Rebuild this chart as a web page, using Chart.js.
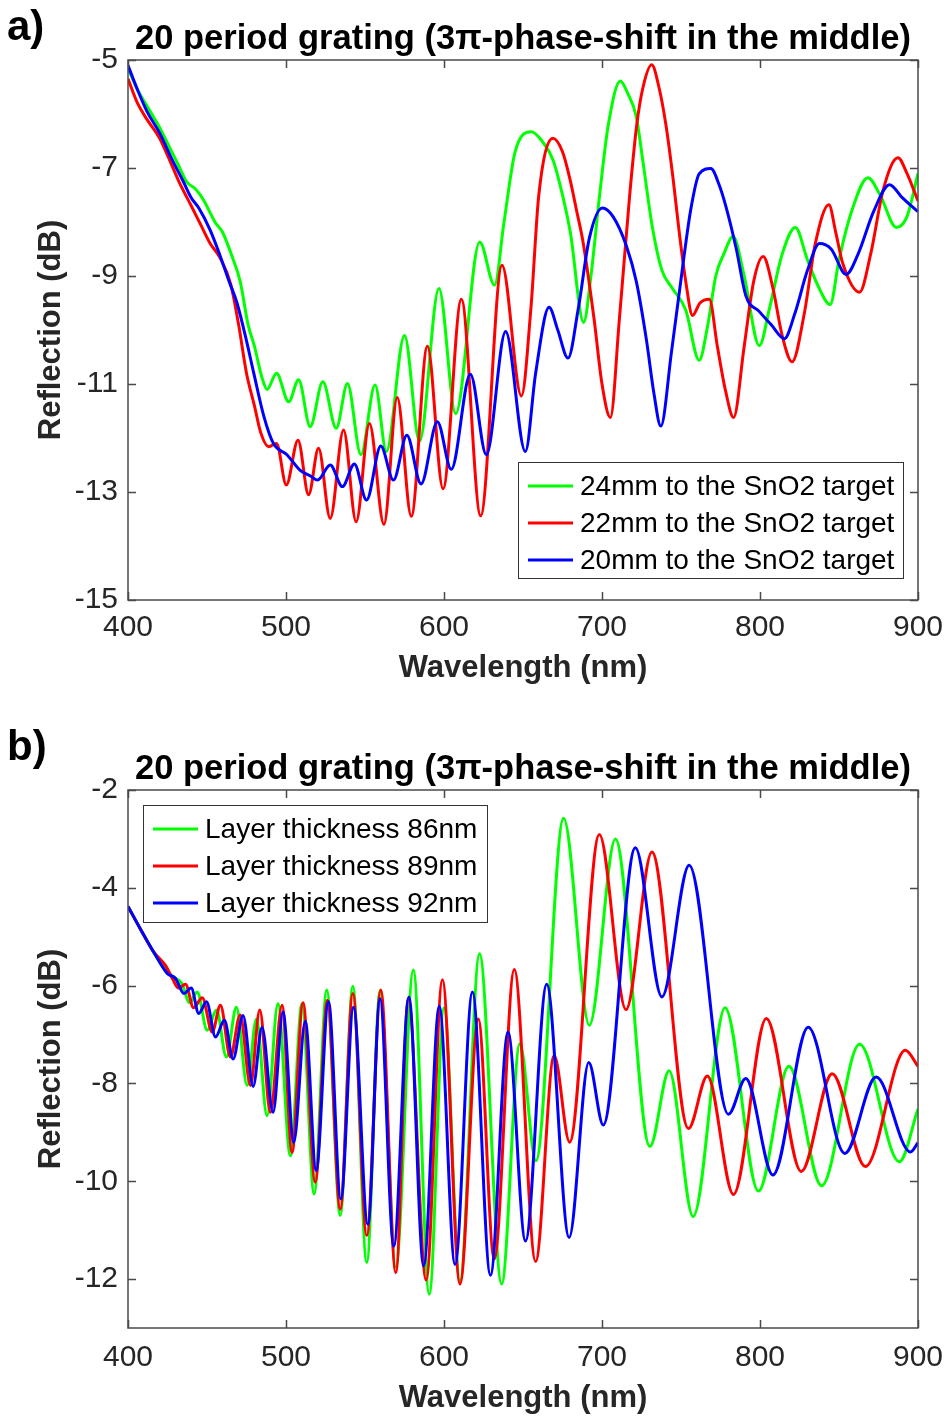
<!DOCTYPE html>
<html>
<head>
<meta charset="utf-8">
<script src="https://cdn.jsdelivr.net/npm/chart.js@4.4.1/dist/chart.umd.min.js"></script>
<style>
  html, body { margin: 0; padding: 0; background: #fff; }
  #page { position: relative; width: 947px; height: 1421px; background: #fff; }
  canvas { position: absolute; left: 0; }
  #chartA { top: 0; }
  #chartB { top: 720px; }
</style>
</head>
<body>
<div id="page">
  <canvas id="chartA" width="947" height="700"></canvas>
  <canvas id="chartB" width="947" height="701"></canvas>
</div>
<script>
const FONT = '"Liberation Sans", Arial, Helvetica, sans-serif';
const TITLE = '20 period grating (3\u03c0-phase-shift in the middle)';

// ticks
const xTicks = [400, 500, 600, 700, 800, 900];
const yTicksA = [-15, -13, -11, -9, -7, -5];
const yTicksB = [-12, -10, -8, -6, -4, -2];

// legend labels
const labelsA = ['24mm to the SnO2 target', '22mm to the SnO2 target', '20mm to the SnO2 target'];
const labelsB = ['Layer thickness 86nm', 'Layer thickness 89nm', 'Layer thickness 92nm'];
const colors = ['#00ff00', '#ff0000', '#0000ff'];

// a) measured reflection, read off the figure
const mm24Wl = [400, 406, 412, 420, 426, 432, 437, 443, 448, 455, 460, 466, 471, 476, 480, 485, 488, 494, 501.7, 508, 515.3, 523.3, 531.8, 538.9, 547.4, 556.4, 563.5, 575, 584.5, 596.8, 607.4, 622.6, 632, 638, 645, 655.3, 662, 669, 675, 680, 688.4, 693, 698.5, 704, 711.6, 716, 721.7, 726, 731.9, 738, 744.6, 753, 761.5, 767, 772, 777, 783, 790, 799.6, 806, 814, 822.4, 830, 837, 844.4, 850, 858, 868.3, 876, 886.3, 893, 900];
const mm24Db = [-5.15, -5.55, -5.85, -6.25, -6.6, -6.95, -7.25, -7.4, -7.6, -8.0, -8.2, -8.65, -9.1, -9.9, -10.3, -10.9, -11.1, -10.8, -11.33, -10.92, -11.79, -10.96, -11.82, -10.99, -12.31, -11.02, -12.25, -10.1, -12.06, -9.23, -11.55, -8.37, -9.17, -8.0, -6.7, -6.33, -6.5, -6.85, -7.5, -8.2, -9.86, -9.0, -7.5, -6.2, -5.39, -5.6, -6.05, -6.9, -8.1, -8.9, -9.23, -9.63, -10.56, -9.9, -9.0, -8.6, -8.27, -9.0, -10.29, -9.6, -8.6, -8.1, -8.7, -9.2, -9.53, -8.7, -7.8, -7.18, -7.5, -8.1, -7.9, -7.1];

const mm22Wl = [400, 406, 412, 420, 427, 433, 440, 446, 452, 458, 465, 470, 475, 480, 484, 489, 494, 500.2, 507.6, 514.3, 520.6, 528, 536.4, 544.4, 552.8, 562, 570.4, 579.3, 589.5, 599.4, 611, 623.2, 636.7, 649, 655, 660, 669, 675, 679.5, 684, 688, 695, 700, 705.3, 711, 717.5, 722, 726, 731.5, 736, 740.4, 745, 748.8, 753, 757.3, 762, 767.9, 773, 778, 783.3, 790, 796, 802, 808, 814, 820.3, 828, 835, 843.6, 848, 852.4, 863, 870, 878, 887.3, 893, 900];
const mm22Db = [-5.35, -5.8, -6.1, -6.45, -6.9, -7.3, -7.7, -8.05, -8.4, -8.65, -9.15, -9.9, -10.8, -11.4, -11.9, -12.16, -12.1, -12.87, -12.04, -13.05, -12.19, -13.49, -11.85, -13.55, -11.73, -13.6, -11.25, -13.45, -10.3, -12.94, -9.43, -13.44, -8.8, -11.22, -9.6, -7.5, -6.45, -6.7, -7.18, -7.8, -8.37, -9.8, -11.0, -11.62, -9.8, -7.51, -6.2, -5.5, -5.09, -5.5, -6.19, -7.2, -8.17, -9.1, -9.73, -9.5, -9.43, -10.3, -11.1, -11.62, -10.3, -9.1, -8.64, -9.2, -10.1, -10.59, -9.7, -8.4, -7.68, -8.2, -8.77, -9.3, -8.6, -7.4, -6.81, -7.1, -7.61];

const mm20Wl = [400, 406, 412, 420, 428, 435, 440, 445, 452, 458, 464, 469, 475, 479.6, 486, 492, 500.6, 509, 515.3, 520, 528, 535.7, 543.3, 551, 560, 568, 576.5, 585.5, 595.8, 604.6, 616.7, 626.8, 639, 651.5, 658, 666.5, 672, 678.5, 685, 692, 700.2, 707, 715.4, 721.7, 728, 733, 737.2, 744, 751, 756, 761.5, 768.9, 774, 778.4, 785, 791, 799.6, 807, 815.4, 822, 830, 837.6, 845, 854.5, 862, 872, 882, 890, 900];
const mm20Db = [-5.1, -5.55, -5.95, -6.35, -6.85, -7.25, -7.55, -7.75, -8.15, -8.6, -9.1, -9.5, -10.2, -10.8, -11.6, -12.1, -12.31, -12.6, -12.7, -12.78, -12.5, -12.9, -12.48, -13.15, -12.15, -12.78, -11.95, -12.85, -11.7, -12.58, -10.82, -12.31, -10.03, -12.25, -10.8, -9.58, -10.0, -10.52, -9.6, -8.3, -7.74, -7.9, -8.44, -9.1, -10.16, -11.2, -11.78, -10.4, -8.84, -7.8, -7.11, -7.01, -7.3, -7.71, -8.5, -9.36, -9.66, -9.9, -10.16, -9.7, -8.9, -8.4, -8.5, -8.97, -8.6, -7.8, -7.31, -7.55, -7.81];

// b) simulated reflection, peaks and troughs
const nm86Wl = [400, 408, 416, 424, 430, 434, 439, 443.8, 450.1, 456, 462.3, 468.6, 475.4, 481.3, 488, 494.9, 502.8, 510.1, 517.8, 525.8, 534.3, 542.3, 551.1, 559.5, 569.5, 580.6, 590.7, 600, 610.1, 622.5, 636.5, 648, 658.2, 675.7, 692, 708.5, 730.3, 742.5, 757.7, 777.9, 799, 818.3, 839, 863, 888.2, 900];
const nm86Db = [-4.38, -4.85, -5.3, -5.7, -5.85, -5.95, -6.35, -6.13, -6.91, -6.5, -7.46, -6.44, -8.04, -6.68, -8.66, -6.37, -9.48, -6.37, -10.26, -6.09, -10.7, -6.01, -11.66, -6.11, -11.75, -5.68, -12.31, -6.45, -12.04, -5.35, -12.1, -7.19, -9.58, -2.58, -6.81, -3.0, -9.29, -7.74, -10.72, -6.45, -10.2, -7.65, -10.09, -7.2, -9.6, -8.52];

const nm89Wl = [400, 408, 416, 424, 428, 432, 436.4, 441.5, 447, 453.3, 458.5, 464.8, 471, 477.5, 483.4, 490.1, 497.5, 503.8, 510.8, 518.5, 526.2, 534.3, 542.3, 551.1, 560, 569.5, 577.4, 588.7, 599, 610.1, 621.7, 631.8, 644.5, 658, 669.7, 679.5, 698.3, 715.2, 731.6, 754.7, 766.7, 783.2, 804, 826.1, 845.7, 866.7, 892, 900];
const nm89Db = [-4.38, -4.85, -5.3, -5.6, -5.85, -6.05, -5.97, -6.45, -6.25, -6.95, -6.4, -7.46, -6.6, -8.04, -6.5, -8.59, -6.4, -9.41, -6.35, -10.02, -6.3, -10.57, -6.16, -11.11, -6.09, -11.87, -6.27, -12.02, -5.88, -12.1, -6.68, -11.59, -5.67, -11.64, -7.43, -9.2, -2.91, -6.49, -3.27, -8.92, -7.85, -10.27, -6.67, -9.8, -7.8, -9.7, -7.32, -7.65];

const nm92Wl = [400, 408, 416, 424.8, 430, 435.4, 440, 444.8, 449.7, 455.4, 461, 466.5, 472.8, 479.2, 484.8, 491.8, 498.1, 504.9, 512.2, 519.1, 526.9, 534.7, 542.7, 551.8, 559.5, 568.2, 577.8, 587.1, 597, 607, 618, 629.4, 640.5, 651.6, 665, 679.2, 691.6, 700.8, 721.1, 737.9, 755.2, 780, 791, 808.2, 830.5, 853.7, 873.5, 895.2, 900];
const nm92Db = [-4.38, -4.85, -5.3, -5.75, -5.85, -6.16, -6.05, -6.57, -6.33, -7.05, -6.71, -7.5, -6.61, -8.06, -6.85, -8.59, -6.54, -9.2, -6.73, -9.78, -6.33, -10.36, -6.44, -10.88, -6.27, -11.33, -6.23, -11.73, -6.42, -11.7, -6.13, -11.92, -6.95, -11.22, -5.97, -11.15, -7.57, -8.85, -3.18, -6.23, -3.54, -8.63, -7.9, -9.87, -6.85, -9.43, -7.87, -9.4, -9.21];

function pts(wl, db) {
  return wl.map((x, i) => ({ x: x, y: db[i] }));
}

function series(label, color, wl, db, order) {
  return {
    label: label,
    data: pts(wl, db),
    borderColor: color,
    backgroundColor: color,
    borderWidth: 3,
    pointRadius: 0,
    fill: false,
    cubicInterpolationMode: 'monotone',
    order: order
  };
}

// box, inward ticks, legend, title and panel letter (MATLAB look)
const framePlugin = {
  id: 'frame',
  afterDatasetsDraw(chart, args, opts) {
    const { ctx, chartArea: a, scales: { x, y } } = chart;
    ctx.save();
    ctx.strokeStyle = '#4a4a4a';
    ctx.lineWidth = 1.5;
    ctx.strokeRect(a.left, a.top, a.right - a.left, a.bottom - a.top);

    const tl = 8;
    ctx.beginPath();
    xTicks.forEach(v => {
      const px = Math.round(x.getPixelForValue(v)) + 0.5;
      ctx.moveTo(px, a.bottom); ctx.lineTo(px, a.bottom - tl);
      ctx.moveTo(px, a.top); ctx.lineTo(px, a.top + tl);
    });
    opts.yTicks.forEach(v => {
      const py = Math.round(y.getPixelForValue(v)) + 0.5;
      ctx.moveTo(a.left, py); ctx.lineTo(a.left + tl, py);
      ctx.moveTo(a.right, py); ctx.lineTo(a.right - tl, py);
    });
    ctx.stroke();

    // legend box
    const lg = opts.legend;
    ctx.fillStyle = '#fff';
    ctx.fillRect(lg.x, lg.y, lg.w, lg.h);
    ctx.lineWidth = 1;
    ctx.strokeStyle = '#333';
    ctx.strokeRect(lg.x + 0.5, lg.y + 0.5, lg.w, lg.h);
    ctx.font = '28px ' + FONT;
    ctx.textBaseline = 'middle';
    ctx.textAlign = 'left';
    chart.data.datasets.forEach((ds, i) => {
      const cy = lg.y + 24 + i * 37;
      ctx.strokeStyle = ds.borderColor;
      ctx.lineWidth = 3;
      ctx.beginPath();
      ctx.moveTo(lg.x + 10, cy);
      ctx.lineTo(lg.x + 55, cy);
      ctx.stroke();
      ctx.fillStyle = '#000';
      ctx.fillText(ds.label, lg.x + 62, cy + 1);
    });
    ctx.restore();
  },
  afterDraw(chart, args, opts) {
    const { ctx, chartArea: a } = chart;
    ctx.save();
    ctx.fillStyle = '#000';
    ctx.textBaseline = 'alphabetic';
    ctx.textAlign = 'center';
    ctx.font = 'bold 34.5px ' + FONT;
    ctx.fillText(TITLE, (a.left + a.right) / 2, opts.titleY);
    ctx.textAlign = 'left';
    ctx.font = 'bold 42px ' + FONT;
    ctx.fillText(opts.panel, 7, opts.panelY);
    ctx.restore();
  }
};

function makeChart(id, datasets, cfg) {
  return new Chart(document.getElementById(id), {
    type: 'line',
    data: { datasets: datasets },
    plugins: [framePlugin],
    options: {
      responsive: false,
      animation: false,
      devicePixelRatio: 1,
      layout: { padding: { left: 0, top: cfg.top, right: 29, bottom: 0 } },
      plugins: {
        legend: { display: false },
        tooltip: { enabled: false },
        frame: { yTicks: cfg.yTicks, legend: cfg.legend, titleY: cfg.titleY, panel: cfg.panel, panelY: cfg.panelY }
      },
      scales: {
        x: {
          type: 'linear',
          min: 400,
          max: 900,
          afterBuildTicks: s => { s.ticks = xTicks.map(v => ({ value: v })); },
          afterFit: s => { s.height = cfg.xAxisH; s.paddingLeft = 0; s.paddingRight = 0; },
          grid: { display: false, drawTicks: false },
          border: { display: false },
          ticks: { padding: cfg.xTickPad, color: '#262626', autoSkip: false, maxRotation: 0,
                   font: { family: FONT, size: 30 } },
          title: { display: true, text: 'Wavelength (nm)', color: '#262626',
                   font: { family: FONT, size: 31, weight: 'bold' },
                   padding: { top: 0, bottom: cfg.xTitlePad } }
        },
        y: {
          type: 'linear',
          min: cfg.yMin,
          max: cfg.yMax,
          afterBuildTicks: s => { s.ticks = cfg.yTicks.map(v => ({ value: v })); },
          afterFit: s => { s.width = 128; s.paddingTop = 0; s.paddingBottom = 0; },
          grid: { display: false, drawTicks: false },
          border: { display: false },
          ticks: { padding: 10, color: '#262626', font: { family: FONT, size: 30 } },
          title: { display: true, text: 'Reflection (dB)', color: '#262626',
                   font: { family: FONT, size: 31, weight: 'bold' },
                   padding: { top: 33, bottom: 0 } }
        }
      }
    }
  });
}

makeChart('chartA', [
  series(labelsA[0], colors[0], mm24Wl, mm24Db, 3),
  series(labelsA[1], colors[1], mm22Wl, mm22Db, 2),
  series(labelsA[2], colors[2], mm20Wl, mm20Db, 1)
], {
  top: 60, xAxisH: 100, xTickPad: 10, xTitlePad: 13,
  yMin: -15, yMax: -5, yTicks: yTicksA,
  legend: { x: 518, y: 462, w: 385, h: 116 },
  titleY: 49, panel: 'a)', panelY: 40
});

makeChart('chartB', [
  series(labelsB[0], colors[0], nm86Wl, nm86Db, 3),
  series(labelsB[1], colors[1], nm89Wl, nm89Db, 2),
  series(labelsB[2], colors[2], nm92Wl, nm92Db, 1)
], {
  top: 70, xAxisH: 93, xTickPad: 12, xTitlePad: 4,
  yMin: -13, yMax: -2, yTicks: yTicksB,
  legend: { x: 143, y: 85, w: 344, h: 117 },
  titleY: 59, panel: 'b)', panelY: 40
});
</script>
</body>
</html>
